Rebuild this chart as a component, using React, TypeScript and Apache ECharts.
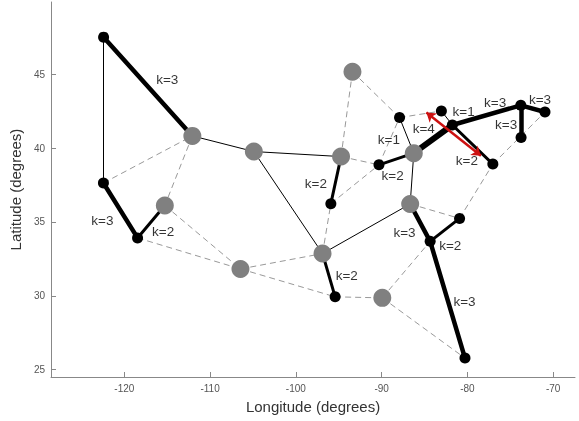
import React, { useEffect, useRef } from "react";
import * as echarts from "echarts";

// Gray hub nodes
const hubIds = ["G1", "G2", "G3", "G4", "G5", "G6", "G7", "G8", "G9", "G10"];
const hubLon = [-112.07, -104.9, -115.28, -106.46, -93.4, -94.73, -86.25, -86.67, -96.89, -89.92];
const hubLat = [40.83, 39.77, 36.12, 31.82, 45.18, 39.43, 39.66, 36.22, 32.86, 29.86];

// Black site nodes
const siteIds = ["N1", "N2", "N3", "N4", "N5", "N6", "N7", "N8", "N9", "N10", "N11", "N12", "N13", "N14", "N15", "N16"];
const siteLon = [-122.42, -122.44, -118.46, -95.92, -95.42, -90.31, -87.91, -83.03, -81.75, -77.03, -73.77, -70.95, -73.74, -80.91, -84.34, -80.28];
const siteLat = [47.52, 37.64, 33.92, 36.24, 29.93, 38.87, 42.07, 42.52, 41.57, 38.92, 42.9, 42.45, 40.72, 35.24, 33.69, 25.78];

// Solid edges: [from, to, k]
const solidEdges: [string, string, number][] = [
  ["N1", "G1", 3], ["N1", "N2", 1], ["N2", "N3", 3], ["N3", "G3", 2],
  ["G1", "G2", 1], ["G2", "G6", 1], ["G2", "G9", 1], ["G6", "N4", 2],
  ["G9", "N5", 2], ["G9", "G8", 1], ["G7", "G8", 1], ["G7", "N7", 1],
  ["N6", "G7", 2], ["G7", "N9", 4], ["N9", "N8", 1], ["N9", "N10", 2],
  ["N9", "N11", 3], ["N11", "N12", 3], ["N11", "N13", 3], ["G8", "N15", 3],
  ["N15", "N14", 2], ["N15", "N16", 3],
];

// Dashed candidate edges
const dashedEdges: [string, string][] = [
  ["N2", "G1"], ["G1", "G3"], ["G3", "G4"], ["N3", "G4"], ["G4", "G9"], ["G4", "N5"],
  ["N5", "G10"], ["G10", "N16"], ["G10", "N15"], ["G9", "N4"], ["N4", "N6"], ["G6", "N6"],
  ["G5", "G6"], ["G5", "N7"], ["N7", "N8"], ["N6", "N7"], ["G8", "N14"], ["N14", "N10"],
  ["N10", "N12"],
];

// Red double arrow
const arrowFrom = [-84.78, 42.41];
const arrowTo = [-78.42, 39.48];

// Edge labels
const labelText = ["k=3", "k=3", "k=2", "k=2", "k=1", "k=2", "k=4", "k=1", "k=3", "k=3", "k=3", "k=2", "k=2", "k=3", "k=2", "k=3"];
const labelLon = [-115.0, -122.56, -115.47, -97.67, -89.15, -88.72, -85.09, -80.44, -76.76, -71.53, -75.48, -80.05, -94.07, -87.33, -81.99, -80.33];
const labelLat = [44.62, 35.11, 34.36, 37.64, 40.56, 38.13, 41.35, 42.47, 43.08, 43.31, 41.57, 39.14, 31.37, 34.32, 33.4, 29.61];

const xTicks = [-120, -110, -100, -90, -80, -70];
const yTicks = [25, 30, 35, 40, 45];

const FONT = "'Liberation Sans', Arial, Helvetica, sans-serif";

function pos(id: string): [number, number] {
  const h = hubIds.indexOf(id);
  if (h >= 0) return [hubLon[h], hubLat[h]];
  const s = siteIds.indexOf(id);
  return [siteLon[s], siteLat[s]];
}

const widthForK = (k: number) => (k === 1 ? 1 : k === 2 ? 3 : k === 3 ? 4.5 : 6);

export default function App() {
  const ref = useRef<HTMLDivElement>(null);
  useEffect(() => {
    if (!ref.current) return;
    const chart = echarts.init(ref.current, undefined, { renderer: "svg" });
    const option: any = {
      animation: false,
      backgroundColor: "#fff",
      grid: { left: 49, right: 4, top: 2, bottom: 44 },
      xAxis: {
        type: "value",
        min: -128.55,
        max: -67.45,
        name: "Longitude (degrees)",
        nameLocation: "middle",
        nameGap: 22,
        nameTextStyle: { fontFamily: FONT, fontSize: 15, color: "#333" },
        axisLine: { show: true, lineStyle: { color: "#888", width: 1 } },
        axisTick: { show: true, inside: true, length: 5, customValues: xTicks, lineStyle: { color: "#888" } },
        axisLabel: { customValues: xTicks, fontFamily: FONT, fontSize: 10, color: "#555", margin: 6 },
        splitLine: { show: false },
      },
      yAxis: {
        type: "value",
        min: 24.5,
        max: 49.9,
        name: "Latitude (degrees)",
        nameLocation: "middle",
        nameGap: 15,
        nameTextStyle: { fontFamily: FONT, fontSize: 15, color: "#333" },
        axisLine: { show: true, lineStyle: { color: "#888", width: 1 } },
        axisTick: { show: true, inside: true, length: 5, customValues: yTicks, lineStyle: { color: "#888" } },
        axisLabel: { customValues: yTicks, fontFamily: FONT, fontSize: 10, color: "#555", margin: 6 },
        splitLine: { show: false },
      },
      series: [
        {
          type: "lines",
          coordinateSystem: "cartesian2d",
          z: 1,
          silent: true,
          lineStyle: { color: "#999", width: 1, type: [6, 4], opacity: 1 },
          data: dashedEdges.map(([a, b]) => ({ coords: [pos(a), pos(b)] })),
        },
        {
          type: "lines",
          coordinateSystem: "cartesian2d",
          z: 2,
          silent: true,
          data: solidEdges.map(([a, b, k]) => ({
            coords: [pos(a), pos(b)],
            lineStyle: { color: "#000", width: widthForK(k), type: "solid", opacity: 1, cap: "round" },
          })),
        },
        {
          type: "lines",
          coordinateSystem: "cartesian2d",
          z: 5,
          silent: true,
          symbol: ["arrow", "arrow"],
          symbolSize: 9,
          lineStyle: { color: "#cc1111", width: 2.5, opacity: 1 },
          data: [{ coords: [arrowFrom, arrowTo] }],
        },
        {
          type: "scatter",
          z: 3,
          silent: true,
          symbolSize: 18,
          itemStyle: { color: "#808080", opacity: 1 },
          data: hubLon.map((x, i) => [x, hubLat[i]]),
        },
        {
          type: "scatter",
          z: 4,
          silent: true,
          symbolSize: 11,
          itemStyle: { color: "#000", opacity: 1 },
          data: siteLon.map((x, i) => [x, siteLat[i]]),
        },
        {
          type: "scatter",
          z: 6,
          silent: true,
          symbolSize: 0,
          itemStyle: { color: "#000" },
          label: {
            show: true,
            position: "inside",
            fontFamily: FONT,
            fontSize: 13.5,
            color: "#000",
            textBorderWidth: 0,
            textBorderColor: "transparent",
            formatter: (p: any) => labelText[p.dataIndex],
          },
          data: labelLon.map((x, i) => [x, labelLat[i]]),
        },
      ],
    };
    chart.setOption(option);
    return () => chart.dispose();
  }, []);
  return (
    <div
      ref={ref}
      style={{ position: "fixed", left: 0, top: 0, width: 579, height: 421, background: "#fff", willChange: "transform" }}
    />
  );
}
